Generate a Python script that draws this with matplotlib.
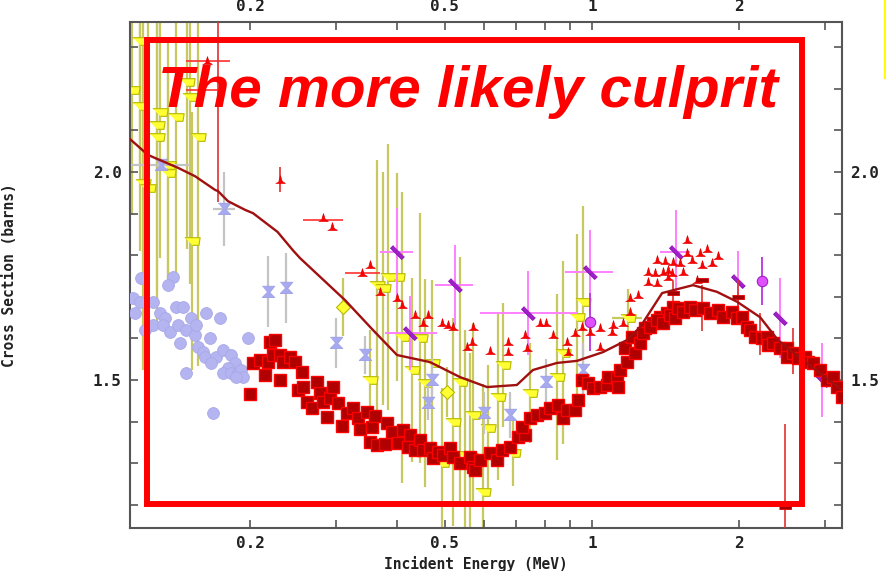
import matplotlib
matplotlib.use("Agg")
import matplotlib.pyplot as plt
from matplotlib.patches import Rectangle
from matplotlib.lines import Line2D
from matplotlib.ticker import FixedLocator, FixedFormatter, NullFormatter

# ---- evaluacion (curva) ----
curva_e = [0.1136, 0.1236, 0.1424, 0.1542, 0.1695, 0.1719, 0.1801, 0.1952, 0.2027, 0.2275,
           0.2445, 0.2529, 0.3126, 0.3566, 0.3993, 0.4664, 0.5371, 0.610, 0.702, 0.757,
           0.848, 0.932, 1.053, 1.179, 1.254, 1.391, 1.609, 1.800, 1.980, 2.206,
           2.400, 2.663, 3.245]
curva_s = [2.079, 2.041, 2.010, 1.990, 1.957, 1.954, 1.930, 1.909, 1.901, 1.856,
           1.812, 1.793, 1.692, 1.620, 1.560, 1.543, 1.507, 1.483, 1.488, 1.524,
           1.541, 1.546, 1.567, 1.596, 1.627, 1.709, 1.728, 1.712, 1.688, 1.651,
           1.596, 1.553, 1.476]

# ---- cuadrados rojo oscuro ----
sq_e = [0.1998, 0.2027, 0.2094, 0.2144, 0.2195, 0.2247, 0.2175, 0.2227, 0.2301, 0.2301,
        0.2334, 0.2412, 0.2470, 0.2553, 0.2505, 0.2565, 0.2614, 0.2676, 0.2739, 0.2778,
        0.2817, 0.2912, 0.2954, 0.3024, 0.2871, 0.3083, 0.3155, 0.3246, 0.3323, 0.3354,
        0.3467, 0.3550, 0.3600, 0.3516, 0.3634, 0.3809, 0.3774, 0.3900, 0.4011, 0.4107,
        0.4245, 0.4205, 0.4346, 0.4449, 0.4513, 0.4664, 0.4731, 0.4843, 0.4958, 0.5124,
        0.5197, 0.5371, 0.5630, 0.5710, 0.5764, 0.5902, 0.6186, 0.6394, 0.6547, 0.6797,
        0.7058, 0.7297, 0.7193, 0.7468, 0.7719, 0.8015, 0.8205, 0.8520, 0.8721, 0.8889,
        0.9230, 0.9362, 0.9540, 0.9813, 1.0047, 1.0384, 1.0733, 1.0784, 1.1246, 1.1299,
        1.1409, 1.179, 1.168, 1.207, 1.224, 1.254, 1.283, 1.333, 1.377, 1.425,
        1.466, 1.271, 1.314, 1.358, 1.398, 1.444, 1.478, 1.499, 1.535, 1.586,
        1.624, 1.687, 1.743, 1.810, 1.853, 1.933, 1.980, 2.026, 2.075, 2.104,
        2.156, 2.231, 2.284, 2.295, 2.345, 2.423, 2.504, 2.504, 2.574, 2.635,
        2.722, 2.760, 2.824, 2.926, 3.025, 3.112, 3.172, 3.245]
sq_s = [1.466, 1.541, 1.548, 1.512, 1.591, 1.596, 1.543, 1.560, 1.560, 1.500,
        1.543, 1.555, 1.543, 1.519, 1.476, 1.483, 1.447, 1.433, 1.495, 1.469,
        1.447, 1.457, 1.483, 1.445, 1.411, 1.389, 1.421, 1.433, 1.409, 1.382,
        1.423, 1.387, 1.413, 1.351, 1.344, 1.397, 1.346, 1.375, 1.349, 1.380,
        1.368, 1.339, 1.332, 1.356, 1.332, 1.337, 1.313, 1.327, 1.320, 1.337,
        1.315, 1.300, 1.315, 1.291, 1.284, 1.308, 1.325, 1.308, 1.332, 1.339,
        1.363, 1.368, 1.387, 1.409, 1.416, 1.421, 1.433, 1.440, 1.409, 1.428,
        1.428, 1.452, 1.500, 1.493, 1.481, 1.483, 1.488, 1.507, 1.505, 1.483,
        1.524, 1.543, 1.577, 1.603, 1.565, 1.589, 1.625, 1.637, 1.651, 1.661,
        1.675, 1.613, 1.627, 1.644, 1.637, 1.656, 1.649, 1.673, 1.663, 1.675,
        1.668, 1.673, 1.661, 1.668, 1.651, 1.663, 1.649, 1.651, 1.627, 1.620,
        1.603, 1.601, 1.603, 1.584, 1.589, 1.577, 1.577, 1.555, 1.565, 1.553,
        1.555, 1.543, 1.541, 1.524, 1.500, 1.507, 1.483, 1.459]

# ---- triangulos rojos ----
tri_e = [0.1632, 0.2301, 0.2817, 0.2940, 0.3386, 0.3516, 0.3686, 0.3993, 0.4088, 0.4346,
         0.4620, 0.4513, 0.4936, 0.5076, 0.5197, 0.5551, 0.5710, 0.5683, 0.6186, 0.6733,
         0.6733, 0.7297, 0.7365, 0.7828, 0.8053, 0.8324, 0.8889, 0.8931, 0.9230, 0.9540,
         0.9906, 1.0384, 1.0384, 1.0988, 1.1040, 1.157, 1.196, 1.196, 1.242, 1.302,
         1.302, 1.345, 1.358, 1.358, 1.398, 1.411, 1.430, 1.457, 1.466, 1.513,
         1.535, 1.564, 1.564, 1.601, 1.663, 1.678, 1.718, 1.759, 1.810, 1.640, 1.430]
tri_s = [2.267, 1.981, 1.889, 1.868, 1.757, 1.776, 1.712, 1.697, 1.680, 1.656,
         1.656, 1.637, 1.637, 1.632, 1.627, 1.579, 1.627, 1.591, 1.570, 1.591,
         1.567, 1.608, 1.577, 1.637, 1.637, 1.608, 1.591, 1.567, 1.613, 1.627,
         1.615, 1.625, 1.579, 1.615, 1.632, 1.637, 1.663, 1.697, 1.704, 1.760,
         1.736, 1.757, 1.788, 1.733, 1.760, 1.786, 1.764, 1.757, 1.784, 1.781,
         1.760, 1.837, 1.805, 1.788, 1.805, 1.776, 1.815, 1.781, 1.798, 1.740, 1.748]
trih_e = [0.1632, 0.1719, 0.2817, 0.3386]
trih_s = [2.267, 2.197, 1.885, 1.757]
trih_lo = [0.1478, 0.1478, 0.2565, 0.3125]
trih_hi = [0.1818, 0.1719, 0.3097, 0.3686]

# barras rojas verticales y guiones rojo oscuro
rbar_e = [1.466, 1.678, 1.989, 2.206, 2.574, 2.481, 0.1719, 0.2301]
rbar_s = [1.709, 1.673, 1.700, 1.611, 1.570, 1.195, 2.197, 1.981]
rbar_err = [0.03, 0.056, 0.04, 0.05, 0.056, 0.2, 0.27, 0.03]
dash_e = [1.466, 1.678, 1.989, 2.481]
dash_s = [1.709, 1.740, 1.700, 1.195]

# ---- amarillos ----
yel_e = [0.1190, 0.1149, 0.1190, 0.1308, 0.1411, 0.1290, 0.1290, 0.1485, 0.1506, 0.1564,
         0.1358, 0.1358, 0.1207, 0.1236, 0.1520, 0.3634, 0.3826, 0.3993, 0.3738, 0.4088,
         0.4449, 0.4284, 0.4708, 0.3516, 0.4556, 0.5371, 0.5197, 0.5710, 0.4936, 0.5630,
         0.6577, 0.6422, 0.6129, 0.5498, 0.6895, 0.5986, 0.7468, 0.8479, 0.8721, 0.9319, 0.9587]
yel_s = [2.315, 2.197, 2.159, 2.144, 2.132, 2.113, 2.084, 2.216, 2.180, 2.084,
         2.017, 1.998, 1.974, 1.962, 1.834, 1.728, 1.748, 1.748, 1.721, 1.603,
         1.601, 1.524, 1.541, 1.500, 1.493, 1.495, 1.399, 1.416, 1.300, 1.315,
         1.536, 1.459, 1.385, 1.320, 1.325, 1.231, 1.469, 1.507, 1.565, 1.651, 1.688]
yel_err = [0.30, 0.30, 0.35, 0.35, 0.40, 0.40, 0.45, 0.40, 0.45, 0.55,
           0.30, 0.25, 0.45, 0.50, 0.31, 0.30, 0.32, 0.25, 0.28, 0.35,
           0.30, 0.22, 0.20, 0.12, 0.25, 0.30, 0.25, 0.22, 0.18, 0.25,
           0.15, 0.20, 0.15, 0.30, 0.08, 0.26, 0.12, 0.20, 0.22, 0.20, 0.23]
yd_e = [0.3097, 0.5051]
yd_s = [1.675, 1.471]
yd_err = [0.07, 0.06]
yh_e = [1.185]
yh_s = [1.649]
yh_err = [0.07]
yh_lo = [1.099]
yh_hi = [1.265]

# ---- circulos lavanda ----
cir_e = [0.1196, 0.1390, 0.1358, 0.1153, 0.1190, 0.1161, 0.1266, 0.1219, 0.1266, 0.1308,
         0.1340, 0.1327, 0.1371, 0.1411, 0.1457, 0.1424, 0.1437, 0.1478, 0.1513, 0.1542,
         0.1549, 0.1624, 0.1735, 0.1655, 0.1564, 0.1602, 0.1617, 0.1702, 0.1663, 0.1759,
         0.1826, 0.1860, 0.1801, 0.1759, 0.1826, 0.1888, 0.1915, 0.1933, 0.1869, 0.1979,
         0.1478, 0.1679]
cir_s = [1.745, 1.748, 1.728, 1.697, 1.688, 1.661, 1.688, 1.620, 1.632, 1.661,
         1.649, 1.632, 1.615, 1.675, 1.675, 1.632, 1.589, 1.620, 1.649, 1.608,
         1.632, 1.661, 1.649, 1.601, 1.579, 1.567, 1.555, 1.555, 1.541, 1.572,
         1.560, 1.541, 1.529, 1.517, 1.517, 1.517, 1.524, 1.507, 1.507, 1.601,
         1.517, 1.421]

# ---- lazos lavanda ----
bow_e = [0.1314, 0.1768, 0.2175, 0.2367, 0.2995, 0.3434, 0.4708, 0.4620, 0.6006, 0.6797, 0.8053, 0.9587]
bow_s = [2.017, 1.911, 1.712, 1.721, 1.589, 1.560, 1.500, 1.445, 1.421, 1.416, 1.495, 1.524]
bow_err = [0.0, 0.09, 0.085, 0.085, 0.06, 0.045, 0.05, 0.04, 0.05, 0.055, 0.055, 0.065]
bowh_e = [0.1314, 0.1768]
bowh_s = [2.017, 1.911]
bowh_lo = [0.1141, 0.1679]
bowh_hi = [0.1506, 0.1860]

# ---- barras violeta y circulos magenta ----
pur_e = [0.3993, 0.5247, 0.4245, 0.7398, 0.9906, 1.485, 1.989, 2.423, 2.954]
pur_s = [1.808, 1.728, 1.613, 1.661, 1.760, 1.808, 1.738, 1.649, 1.500]
pur_yerr = [0.106, 0.096, 0.09, 0.10, 0.10, 0.10, 0.072, 0.096, 0.09]
pur_lo = [0.3686, 0.4775, 0.3774, 0.5902, 0.8806, 1.377, 1.989, 2.423, 2.954]
pur_hi = [0.4305, 0.5710, 0.4830, 0.9319, 1.1040, 1.586, 1.989, 2.423, 2.954]
mag_e = [0.9906, 2.226]
mag_s = [1.639, 1.738]
mag_err = [0.07, 0.058]


def _xerr(e, lo, hi):
    return [[a - b for a, b in zip(e, lo)], [c - a for a, c in zip(e, hi)]]


m_flag = [(-1, 0.5), (1, 0.5), (0.85, -0.5), (0.0, -0.5)]
m_bow = [(-1, 1), (1, 1), (0.2, 0), (1, -0.8), (-1, -0.8), (-0.2, 0)]
m_tilt = [(1.06, -0.64), (0.64, -1.06), (-1.06, 0.64), (-0.64, 1.06)]
m_dash = [(-1, -0.35), (1, -0.35), (1, 0.35), (-1, 0.35)]
m_hat = [(-1, -0.6), (1, -0.6), (0.35, -0.2), (0, 1), (-0.35, -0.2)]

fig = plt.figure(figsize=(8.87, 5.71), dpi=100)
ax = fig.add_axes([0.1466, 0.0753, 0.8027, 0.8862])
ax.set_xscale("log")

# amarillos
ax.errorbar(yel_e, yel_s, yerr=yel_err, fmt="none", ecolor="#c8c860", elinewidth=1.6, zorder=1)
ax.errorbar(yd_e, yd_s, yerr=yd_err, fmt="none", ecolor="#c8c860", elinewidth=1.6, zorder=1)
ax.errorbar(yh_e, yh_s, yerr=yh_err, xerr=_xerr(yh_e, yh_lo, yh_hi), fmt="none",
            ecolor="#c8c860", elinewidth=1.6, zorder=1)
ax.plot(yel_e + yh_e, yel_s + yh_s, ls="none", marker=m_flag, ms=11, mfc="#ffff33",
        mec="#b8b800", mew=0.8, zorder=2)
ax.plot(yd_e, yd_s, ls="none", marker="D", ms=7, mfc="#ffff33", mec="#b8b800", mew=0.8, zorder=2)

# lavanda
ax.errorbar(cir_e, cir_s, yerr=0.012, fmt="none", ecolor="#c8c8c8", elinewidth=1.2, zorder=3)
ax.plot(cir_e, cir_s, ls="none", marker="o", ms=8.5, mfc="#b4b4f0", mec="#a8a8e8", mew=0.6, zorder=3)
ax.errorbar(bow_e, bow_s, yerr=bow_err, fmt="none", ecolor="#c4c4c4", elinewidth=1.6, zorder=3)
ax.errorbar(bowh_e, bowh_s, xerr=_xerr(bowh_e, bowh_lo, bowh_hi), fmt="none",
            ecolor="#c4c4c4", elinewidth=1.6, zorder=3)
ax.plot(bow_e, bow_s, ls="none", marker=m_bow, ms=9, mfc="#a8aaf0", mec="#9c9ee8", mew=0.6, zorder=3)

# violeta / magenta
ax.errorbar(pur_e, pur_s, yerr=pur_yerr, xerr=_xerr(pur_e, pur_lo, pur_hi), fmt="none",
            ecolor="#ff80ff", elinewidth=1.4, zorder=4)
ax.errorbar(mag_e, mag_s, yerr=mag_err, fmt="none", ecolor="#c040e0", elinewidth=1.4, zorder=4)
ax.plot(pur_e, pur_s, ls="none", marker=m_tilt, ms=10, mfc="#a020c8", mec="#8010b0", mew=0.6, zorder=5)
ax.plot(mag_e, mag_s, ls="none", marker="o", ms=7.5, mfc="#e050ff", mec="#a020c0", mew=0.8, zorder=5)

# rojos
ax.errorbar(trih_e, trih_s, xerr=_xerr(trih_e, trih_lo, trih_hi), fmt="none",
            ecolor="#ff3030", elinewidth=1.2, zorder=5)
ax.errorbar(rbar_e, rbar_s, yerr=rbar_err, fmt="none", ecolor="#e03030", elinewidth=1.2, zorder=5)
ax.plot(tri_e, tri_s, ls="none", marker=m_hat, ms=7, mfc="#ff0000", mec="#e00000", mew=0.5, zorder=6)

ax.plot(sq_e, sq_s, ls="none", marker="s", ms=8, mfc="#b00000", mec="#ff0000", mew=1.0, zorder=6)
ax.plot(dash_e, dash_s, ls="none", marker=m_dash, ms=9, mfc="#a00000", mec="#e00000", mew=0.6, zorder=6)
ax.plot(curva_e, curva_s, color="#a01010", lw=1.7, zorder=7)

ax.set_xlim(0.1136, 3.245)
ax.set_ylim(1.1442, 2.3606)

ax.xaxis.set_major_locator(FixedLocator([0.2, 0.5, 1, 2]))
ax.xaxis.set_major_formatter(FixedFormatter(["0.2", "0.5", "1", "2"]))
ax.xaxis.set_minor_locator(FixedLocator([0.3, 0.4, 0.6, 0.7, 0.8, 0.9, 3]))
ax.xaxis.set_minor_formatter(NullFormatter())
ax.yaxis.set_major_locator(FixedLocator([1.5, 2.0]))
ax.yaxis.set_major_formatter(FixedFormatter(["1.5", "2.0"]))
ax.yaxis.set_minor_locator(FixedLocator([1.2, 1.3, 1.4, 1.6, 1.7, 1.8, 1.9, 2.1, 2.2, 2.3]))

ax.tick_params(which="both", direction="in", top=True, right=True, labeltop=True,
               labelright=True, length=6, width=1.2, color="#555555",
               labelsize=11.5, labelcolor="#222222", pad=6)
for lab in ax.get_xticklabels() + ax.get_yticklabels():
    lab.set_family("DejaVu Sans Mono")
    lab.set_fontweight("bold")
for sp in ax.spines.values():
    sp.set_color("#555555")
    sp.set_linewidth(1.5)

ax.set_xlabel("Incident Energy (MeV)", family="DejaVu Sans Mono", fontweight="bold",
              fontsize=10.5, color="#222222")
ax.xaxis.set_label_coords(0.486, -0.055)
ax.set_ylabel("Cross Section (barns)", family="DejaVu Sans Mono", fontweight="bold",
              fontsize=10.5, color="#222222")
ax.yaxis.set_label_coords(-0.159, 0.5)

# recuadro rojo y texto
fig.add_artist(Rectangle((0.1657, 0.1173), 0.7385, 0.8127, transform=fig.transFigure,
                         fill=False, ec="#ff0000", lw=4.3, zorder=10))
fig.text(0.528, 0.8126, "The more likely culprit", color="#ff0000", fontsize=42,
         fontweight="bold", fontstyle="italic", family="Liberation Sans",
         ha="center", va="baseline", zorder=11)
fig.add_artist(Line2D([0.9977, 0.9977], [1.0, 0.865], transform=fig.transFigure,
                      color="#ffff00", lw=2.5))

fig.savefig("out.png", dpi=100)
